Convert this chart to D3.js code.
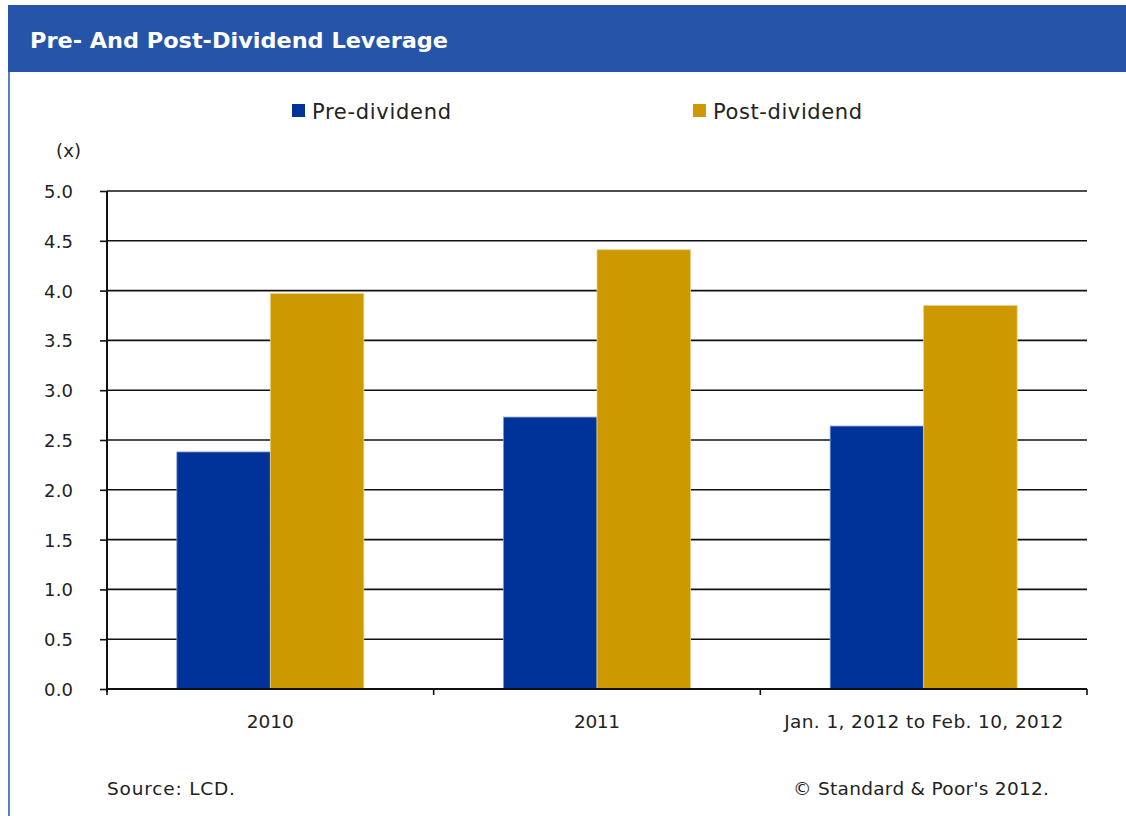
<!DOCTYPE html>
<html><head><meta charset="utf-8">
<script src="https://cdn.jsdelivr.net/npm/d3@7"></script>
<style>body{margin:0;background:#fff}svg{display:block}text{font-family:"DejaVu Sans",sans-serif}</style>
</head><body>
<svg id="c" width="1126" height="816"></svg>
<script>
const categories = ["2010", "2011", "Jan. 1, 2012 to Feb. 10, 2012"];
const seriesNames = ["Pre-dividend", "Post-dividend"];
const preDividend = [2.38, 2.73, 2.64];
const postDividend = [3.97, 4.41, 3.85];
const yTicks = [0, 0.5, 1, 1.5, 2, 2.5, 3, 3.5, 4, 4.5, 5];
const colors = ["#003399", "#CC9900"];

const catLabelWidths = [47, 46, 279];
const legendWidths = [139, 149];

const svg = d3.select("#c");
const m = {l:107, r:1087, t:191, b:689};

// header
svg.append("rect").attr("x",8).attr("y",5).attr("width",1118).attr("height",67).attr("fill","#2654A9");
svg.append("rect").attr("x",8).attr("y",72).attr("width",2).attr("height",744).attr("fill","#5A80C8");
svg.append("text").attr("x",30).attr("y",48).attr("fill","#fff")
  .attr("font-weight","bold").attr("font-size",21)
  .attr("textLength",418).attr("lengthAdjust","spacingAndGlyphs")
  .text("Pre- And Post-Dividend Leverage");

const x0 = d3.scaleBand().domain(categories).range([m.l, m.r]).paddingInner(0).paddingOuter(0);
const x1 = d3.scaleBand().domain(seriesNames).range([0, x0.bandwidth()]).paddingInner(0).paddingOuter(0.747);
const y = d3.scaleLinear().domain([0,5]).range([m.b, m.t]);

// gridlines
svg.append("g").selectAll("line").data(yTicks.filter(d=>d>0)).join("line")
  .attr("x1",m.l).attr("x2",m.r).attr("y1",d=>y(d)).attr("y2",d=>y(d))
  .attr("stroke","#111").attr("stroke-width",1.6);

// bars
const data = categories.map((c,i)=>({c, vals:[preDividend[i], postDividend[i]]}));
const g = svg.append("g");
data.forEach(d=>{
  d.vals.forEach((v,j)=>{
    g.append("rect").attr("x",x0(d.c)+x1(seriesNames[j])).attr("y",y(v))
      .attr("width",x1.bandwidth()).attr("height",y(0)-y(v))
      .attr("fill",colors[j]).attr("stroke", j===0?"#7f9ad0":"#e8cf86").attr("stroke-width",0.8);
  });
});

// y axis
const ya = d3.axisLeft(y).tickValues(yTicks).tickFormat(d3.format(".1f")).tickSize(7).tickPadding(27);
const yg = svg.append("g").attr("transform",`translate(${m.l},0)`).call(ya);
yg.select(".domain").attr("stroke","#111").attr("stroke-width",2).attr("d",`M0,${m.t}V${m.b+3}`);
yg.selectAll(".tick line").attr("stroke","#111").attr("stroke-width",1.6);
yg.selectAll(".tick text").attr("font-size",18).attr("fill","#222").attr("dy","0.36em")
  .attr("font-family","'DejaVu Sans',sans-serif").attr("textLength",29).attr("lengthAdjust","spacing");

// x axis
const bounds = categories.map(c=>x0(c)).concat([m.r]);
svg.append("line").attr("x1",m.l).attr("x2",m.r).attr("y1",m.b).attr("y2",m.b).attr("stroke","#111").attr("stroke-width",2);
svg.append("g").selectAll("line").data(bounds).join("line")
  .attr("x1",d=>d).attr("x2",d=>d).attr("y1",m.b).attr("y2",m.b+6).attr("stroke","#111").attr("stroke-width",1.6);
svg.append("g").selectAll("text").data(categories).join("text")
  .attr("x",(d,i)=>x0(d)+x0.bandwidth()/2 - catLabelWidths[i]/2).attr("y",728)
  .attr("font-size",18.5).attr("textLength",(d,i)=>catLabelWidths[i]).attr("lengthAdjust","spacing")
  .attr("fill","#222").text(d=>d);

// (x)
svg.append("text").attr("x",56).attr("y",157).attr("font-size",18).attr("textLength",25).attr("lengthAdjust","spacing").attr("fill","#222").text("(x)");

// legend
const legX = [292, 693];
seriesNames.forEach((s,i)=>{
  svg.append("rect").attr("x",legX[i]).attr("y",104).attr("width",13).attr("height",13).attr("fill",colors[i]);
  svg.append("text").attr("x",legX[i]+20).attr("y",119).attr("font-size",21)
    .attr("textLength",legendWidths[i]).attr("lengthAdjust","spacing").attr("fill","#222").text(s);
});

// footer
svg.append("text").attr("x",107).attr("y",795).attr("font-size",18.5).attr("textLength",128).attr("lengthAdjust","spacing").attr("fill","#222").text("Source: LCD.");
svg.append("text").attr("x",793).attr("y",795).attr("font-size",18.5).attr("textLength",256).attr("lengthAdjust","spacing").attr("fill","#222").text("© Standard & Poor's 2012.");
</script>
</body></html>
